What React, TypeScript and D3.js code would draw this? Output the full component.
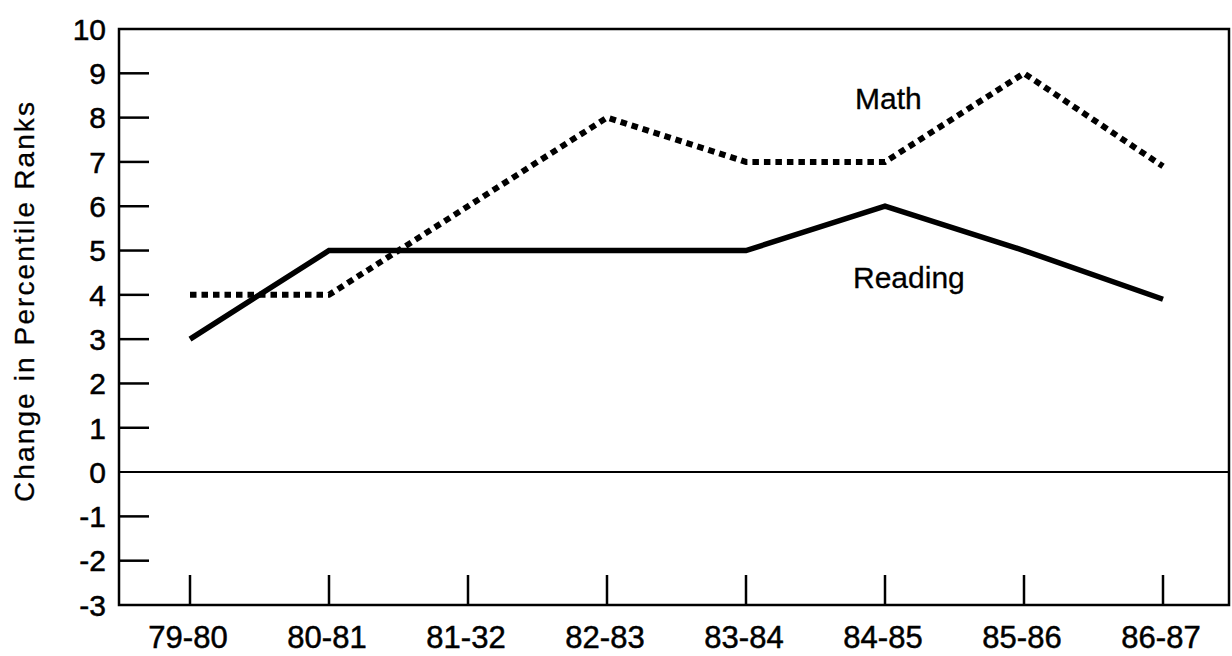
import React, { useRef, useEffect } from 'react';
import * as d3 from 'd3';

const years = ['79-80', '80-81', '81-32', '82-83', '83-84', '84-85', '85-86', '86-87'];
const mathValues = [4, 4, 6, 8, 7, 7, 9, 6.9];
const readingValues = [3, 5, 5, 5, 5, 6, 5, 3.9];
const yTicks = [10, 9, 8, 7, 6, 5, 4, 3, 2, 1, 0, -1, -2, -3];

const width = 1232;
const height = 656;

const App = () => {
  const svgRef = useRef<SVGSVGElement>(null);

  useEffect(() => {
    const left = 119, right = 1229, top = 29, bottom = 605;
    const font = 'Liberation Sans, Arial, Helvetica, sans-serif';

    // Scales
    const x = d3.scalePoint<string>().domain(years).range([190, 1163]);
    const y = d3.scaleLinear().domain([-3, 10]).range([bottom, top]);

    const svg = d3.select(svgRef.current)
      .attr('width', width)
      .attr('height', height)
      .html('');

    svg.append('rect')
      .attr('width', width)
      .attr('height', height)
      .attr('fill', '#fff');

    // Frame
    svg.append('rect')
      .attr('x', left)
      .attr('y', top)
      .attr('width', right - left)
      .attr('height', bottom - top)
      .attr('fill', 'none')
      .attr('stroke', '#000')
      .attr('stroke-width', 2.5);

    // Zero line
    svg.append('line')
      .attr('x1', left).attr('x2', right)
      .attr('y1', y(0)).attr('y2', y(0))
      .attr('stroke', '#000')
      .attr('stroke-width', 2);

    // Y ticks and labels
    const yg = svg.append('g');
    yg.selectAll('line')
      .data(yTicks.filter(d => d !== 10 && d !== 0 && d !== -3))
      .enter()
      .append('line')
        .attr('x1', left).attr('x2', left + 30)
        .attr('y1', d => y(d)).attr('y2', d => y(d))
        .attr('stroke', '#000')
        .attr('stroke-width', 2.5);
    yg.selectAll('text')
      .data(yTicks)
      .enter()
      .append('text')
        .attr('x', 106)
        .attr('y', d => y(d))
        .attr('dy', '0.36em')
        .attr('text-anchor', 'end')
        .attr('font-family', font)
        .attr('font-size', 30)
        .attr('stroke', '#000')
        .attr('stroke-width', 0.5)
        .text(d => d);

    // X ticks and labels
    const xg = svg.append('g');
    xg.selectAll('line')
      .data(years)
      .enter()
      .append('line')
        .attr('x1', d => x(d)!).attr('x2', d => x(d)!)
        .attr('y1', bottom).attr('y2', bottom - 30)
        .attr('stroke', '#000')
        .attr('stroke-width', 2.5);
    xg.selectAll('text')
      .data(years)
      .enter()
      .append('text')
        .attr('x', d => x(d)! - 2)
        .attr('y', 648)
        .attr('text-anchor', 'middle')
        .attr('font-family', font)
        .attr('font-size', 31)
        .attr('stroke', '#000')
        .attr('stroke-width', 0.5)
        .text(d => d);

    // Axis title
    svg.append('text')
      .attr('transform', 'translate(34,302) rotate(-90)')
      .attr('text-anchor', 'middle')
      .attr('font-family', font)
      .attr('font-size', 28)
      .attr('textLength', 400)
      .attr('lengthAdjust', 'spacing')
      .attr('stroke', '#000')
      .attr('stroke-width', 0.3)
      .text('Change in Percentile Ranks');

    // Lines
    const line = d3.line<number>()
      .x((_, i) => x(years[i])!)
      .y(d => y(d));

    svg.append('path')
      .datum(readingValues)
      .attr('d', line)
      .attr('fill', 'none')
      .attr('stroke', '#000')
      .attr('stroke-width', 5.5)
      .attr('stroke-linejoin', 'miter');

    svg.append('path')
      .datum(mathValues)
      .attr('d', line)
      .attr('fill', 'none')
      .attr('stroke', '#000')
      .attr('stroke-width', 6)
      .attr('stroke-dasharray', '6.5 5');

    // Series labels
    svg.append('text')
      .attr('x', 855).attr('y', 109)
      .attr('font-family', font)
      .attr('font-size', 30)
      .attr('stroke', '#000')
      .attr('stroke-width', 0.3)
      .text('Math');
    svg.append('text')
      .attr('x', 853).attr('y', 288)
      .attr('font-family', font)
      .attr('font-size', 30)
      .attr('stroke', '#000')
      .attr('stroke-width', 0.3)
      .text('Reading');
  }, []);

  return (
    <svg
      ref={svgRef}
      style={{ position: 'absolute', left: 0, top: 0, display: 'block' }}
    />
  );
};

export default App;
